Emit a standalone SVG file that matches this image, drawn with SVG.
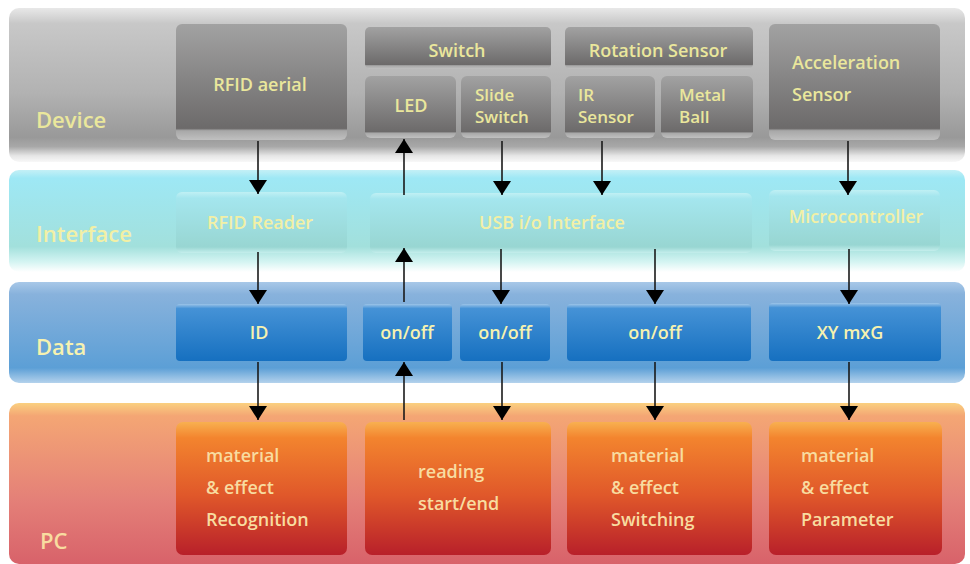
<svg xmlns="http://www.w3.org/2000/svg" width="970" height="564" viewBox="0 0 970 564">
  <defs>
    <linearGradient id="gDevBand" x1="0" y1="0" x2="0" y2="1">
      <stop offset="0" stop-color="#e8e8e8"/>
      <stop offset="0.1" stop-color="#c8c8c8"/>
      <stop offset="0.55" stop-color="#b2b2b2"/>
      <stop offset="0.84" stop-color="#999"/>
      <stop offset="0.9" stop-color="#a8a8a8"/>
      <stop offset="0.96" stop-color="#e6e6e6"/>
      <stop offset="1" stop-color="#f8f8f8"/>
    </linearGradient>
    <linearGradient id="gIfBand" x1="0" y1="0" x2="0" y2="1">
      <stop offset="0" stop-color="#c4f0f6"/>
      <stop offset="0.08" stop-color="#9ee8f5"/>
      <stop offset="0.75" stop-color="#a2e0dc"/>
      <stop offset="0.9" stop-color="#d4f4f2"/>
      <stop offset="1" stop-color="#ffffff"/>
    </linearGradient>
    <linearGradient id="gDataBand" x1="0" y1="0" x2="0" y2="1">
      <stop offset="0" stop-color="#a8c8e8"/>
      <stop offset="0.12" stop-color="#88b2dc"/>
      <stop offset="0.85" stop-color="#5c9fd6"/>
      <stop offset="1" stop-color="#b4d2ec"/>
    </linearGradient>
    <linearGradient id="gPcBand" x1="0" y1="0" x2="0" y2="1">
      <stop offset="0" stop-color="#fad080"/>
      <stop offset="0.08" stop-color="#f4a674"/>
      <stop offset="0.6" stop-color="#e48078"/>
      <stop offset="1" stop-color="#d8626a"/>
    </linearGradient>
    <linearGradient id="gDev" x1="0" y1="0" x2="0" y2="1">
      <stop offset="0" stop-color="#a2a2a2"/>
      <stop offset="0.9" stop-color="#6c6a6a"/>
      <stop offset="0.92" stop-color="#a8a8a8"/>
      <stop offset="1" stop-color="#c0c0c0"/>
    </linearGradient>
    <linearGradient id="gIf" x1="0" y1="0" x2="0" y2="1">
      <stop offset="0" stop-color="#c0f0f4"/>
      <stop offset="0.1" stop-color="#a4e6ee"/>
      <stop offset="0.9" stop-color="#98d6d2"/>
      <stop offset="1" stop-color="#c4eeec"/>
    </linearGradient>
    <linearGradient id="gData" x1="0" y1="0" x2="0" y2="1">
      <stop offset="0" stop-color="#9cc4e8"/>
      <stop offset="0.08" stop-color="#4592d6"/>
      <stop offset="1" stop-color="#1670c0"/>
    </linearGradient>
    <linearGradient id="gPc" x1="0" y1="0" x2="0" y2="1">
      <stop offset="0" stop-color="#f8b050"/>
      <stop offset="0.12" stop-color="#f3842e"/>
      <stop offset="0.55" stop-color="#e0582a"/>
      <stop offset="1" stop-color="#b8202a"/>
    </linearGradient>
    <marker id="ah" viewBox="0 0 14 18" refX="14" refY="9" markerWidth="14" markerHeight="18" markerUnits="userSpaceOnUse" orient="auto">
      <path d="M0,0 L14,9 L0,18 Z" fill="#000"/>
    </marker>
  </defs>
  <style>
    text { font-family: "Open Sans", "Noto Sans", "Liberation Sans", sans-serif; font-weight: 600; font-size: 18px; }
    .band { font-size: 22px; font-weight: 600; }
    .two { font-size: 17px; }
    .dev text, text.dev { fill: #eae79c; }
    .ifc text, text.ifc { fill: #f2f0a6; }
    .dat text, text.dat { fill: #f6f2b0; }
    .pc text, text.pc { fill: #f8dca0; }
    .mid { text-anchor: middle; }
    .conn line { stroke: #1a1a1a; stroke-width: 1.6; marker-end: url(#ah); }
  </style>

  <rect width="970" height="564" fill="#fff"/>

  <!-- layer bands -->
  <g id="bands">
    <rect x="9" y="8" width="956" height="154" rx="10" fill="url(#gDevBand)"/>
    <rect x="9" y="170" width="956" height="102" rx="10" fill="url(#gIfBand)"/>
    <rect x="9" y="282" width="956" height="101" rx="10" fill="url(#gDataBand)"/>
    <rect x="9" y="403" width="956" height="161" rx="10" fill="url(#gPcBand)"/>
    <text class="band dev" x="36" y="128">Device</text>
    <text class="band ifc" x="36" y="242">Interface</text>
    <text class="band dat" x="36" y="355">Data</text>
    <text class="band pc" x="40" y="549">PC</text>
  </g>

  <!-- device layer -->
  <g class="dev">
    <g id="rfid-aerial">
      <rect x="176" y="24" width="171" height="116" rx="6" fill="url(#gDev)"/>
      <text class="mid" x="260" y="91">RFID aerial</text>
    </g>
    <g id="switch">
      <rect x="365" y="27" width="186" height="42" rx="5" fill="url(#gDev)"/>
      <text class="mid" x="457" y="57">Switch</text>
    </g>
    <g id="rotation-sensor">
      <rect x="565" y="27" width="188" height="42" rx="5" fill="url(#gDev)"/>
      <text class="mid" x="658" y="57">Rotation Sensor</text>
    </g>
    <g id="led">
      <rect x="365" y="76" width="91" height="62" rx="6" fill="url(#gDev)"/>
      <text class="mid" x="411" y="112">LED</text>
    </g>
    <g id="slide-switch">
      <rect x="461" y="76" width="90" height="62" rx="6" fill="url(#gDev)"/>
      <text class="two" x="475" y="101">Slide</text>
      <text class="two" x="475" y="123">Switch</text>
    </g>
    <g id="ir-sensor">
      <rect x="565" y="76" width="90" height="62" rx="6" fill="url(#gDev)"/>
      <text class="two" x="578" y="101">IR</text>
      <text class="two" x="578" y="123">Sensor</text>
    </g>
    <g id="metal-ball">
      <rect x="661" y="76" width="92" height="62" rx="6" fill="url(#gDev)"/>
      <text class="two" x="679" y="101">Metal</text>
      <text class="two" x="679" y="123">Ball</text>
    </g>
    <g id="acceleration-sensor">
      <rect x="769" y="24" width="171" height="116" rx="6" fill="url(#gDev)"/>
      <text x="792" y="69">Acceleration</text>
      <text x="792" y="101">Sensor</text>
    </g>
  </g>

  <!-- interface layer -->
  <g class="ifc">
    <g id="rfid-reader">
      <rect x="176" y="192" width="171" height="61" rx="6" fill="url(#gIf)"/>
      <text class="mid" x="260" y="229">RFID Reader</text>
    </g>
    <g id="usb-io">
      <rect x="370" y="193" width="382" height="60" rx="6" fill="url(#gIf)"/>
      <text class="mid" x="552" y="229">USB i/o Interface</text>
    </g>
    <g id="microcontroller">
      <rect x="769" y="190" width="171" height="61" rx="6" fill="url(#gIf)"/>
      <text class="mid" x="856" y="223">Microcontroller</text>
    </g>
  </g>

  <!-- data layer -->
  <g class="dat">
    <g id="id">
      <rect x="176" y="304" width="171" height="57" rx="4" fill="url(#gData)"/>
      <text class="mid" x="259" y="339">ID</text>
    </g>
    <g id="onoff-led">
      <rect x="363" y="304" width="89" height="57" rx="4" fill="url(#gData)"/>
      <text class="mid" x="407" y="339">on/off</text>
    </g>
    <g id="onoff-slide">
      <rect x="460" y="304" width="90" height="57" rx="4" fill="url(#gData)"/>
      <text class="mid" x="505" y="339">on/off</text>
    </g>
    <g id="onoff-rotation">
      <rect x="567" y="304" width="184" height="57" rx="4" fill="url(#gData)"/>
      <text class="mid" x="655" y="339">on/off</text>
    </g>
    <g id="xy-mxg">
      <rect x="769" y="303" width="172" height="58" rx="4" fill="url(#gData)"/>
      <text class="mid" x="850" y="339">XY mxG</text>
    </g>
  </g>

  <!-- pc layer -->
  <g class="pc">
    <g id="recognition">
      <rect x="176" y="422" width="171" height="133" rx="7" fill="url(#gPc)"/>
      <text x="206" y="462">material</text>
      <text x="206" y="494">&amp; effect</text>
      <text x="206" y="526">Recognition</text>
    </g>
    <g id="reading">
      <rect x="365" y="422" width="186" height="133" rx="7" fill="url(#gPc)"/>
      <text x="418" y="478">reading</text>
      <text x="418" y="510">start/end</text>
    </g>
    <g id="switching">
      <rect x="567" y="422" width="185" height="133" rx="7" fill="url(#gPc)"/>
      <text x="611" y="462">material</text>
      <text x="611" y="494">&amp; effect</text>
      <text x="611" y="526">Switching</text>
    </g>
    <g id="parameter">
      <rect x="769" y="422" width="173" height="133" rx="7" fill="url(#gPc)"/>
      <text x="801" y="462">material</text>
      <text x="801" y="494">&amp; effect</text>
      <text x="801" y="526">Parameter</text>
    </g>
  </g>

  <!-- connectors -->
  <g class="conn">
    <line x1="258" y1="141" x2="258" y2="194"/>
    <line x1="258" y1="252" x2="258" y2="304"/>
    <line x1="258" y1="362" x2="258" y2="420"/>

    <line x1="404" y1="195" x2="404" y2="139"/>
    <line x1="404" y1="302" x2="404" y2="248"/>
    <line x1="404" y1="420" x2="404" y2="362"/>

    <line x1="502" y1="141" x2="502" y2="195"/>
    <line x1="501" y1="249" x2="501" y2="304"/>
    <line x1="502" y1="362" x2="502" y2="420"/>

    <line x1="602" y1="141" x2="602" y2="195"/>

    <line x1="655" y1="249" x2="655" y2="304"/>
    <line x1="655" y1="362" x2="655" y2="420"/>

    <line x1="848" y1="141" x2="848" y2="195"/>
    <line x1="849" y1="249" x2="849" y2="304"/>
    <line x1="849" y1="362" x2="849" y2="420"/>
  </g>
</svg>
